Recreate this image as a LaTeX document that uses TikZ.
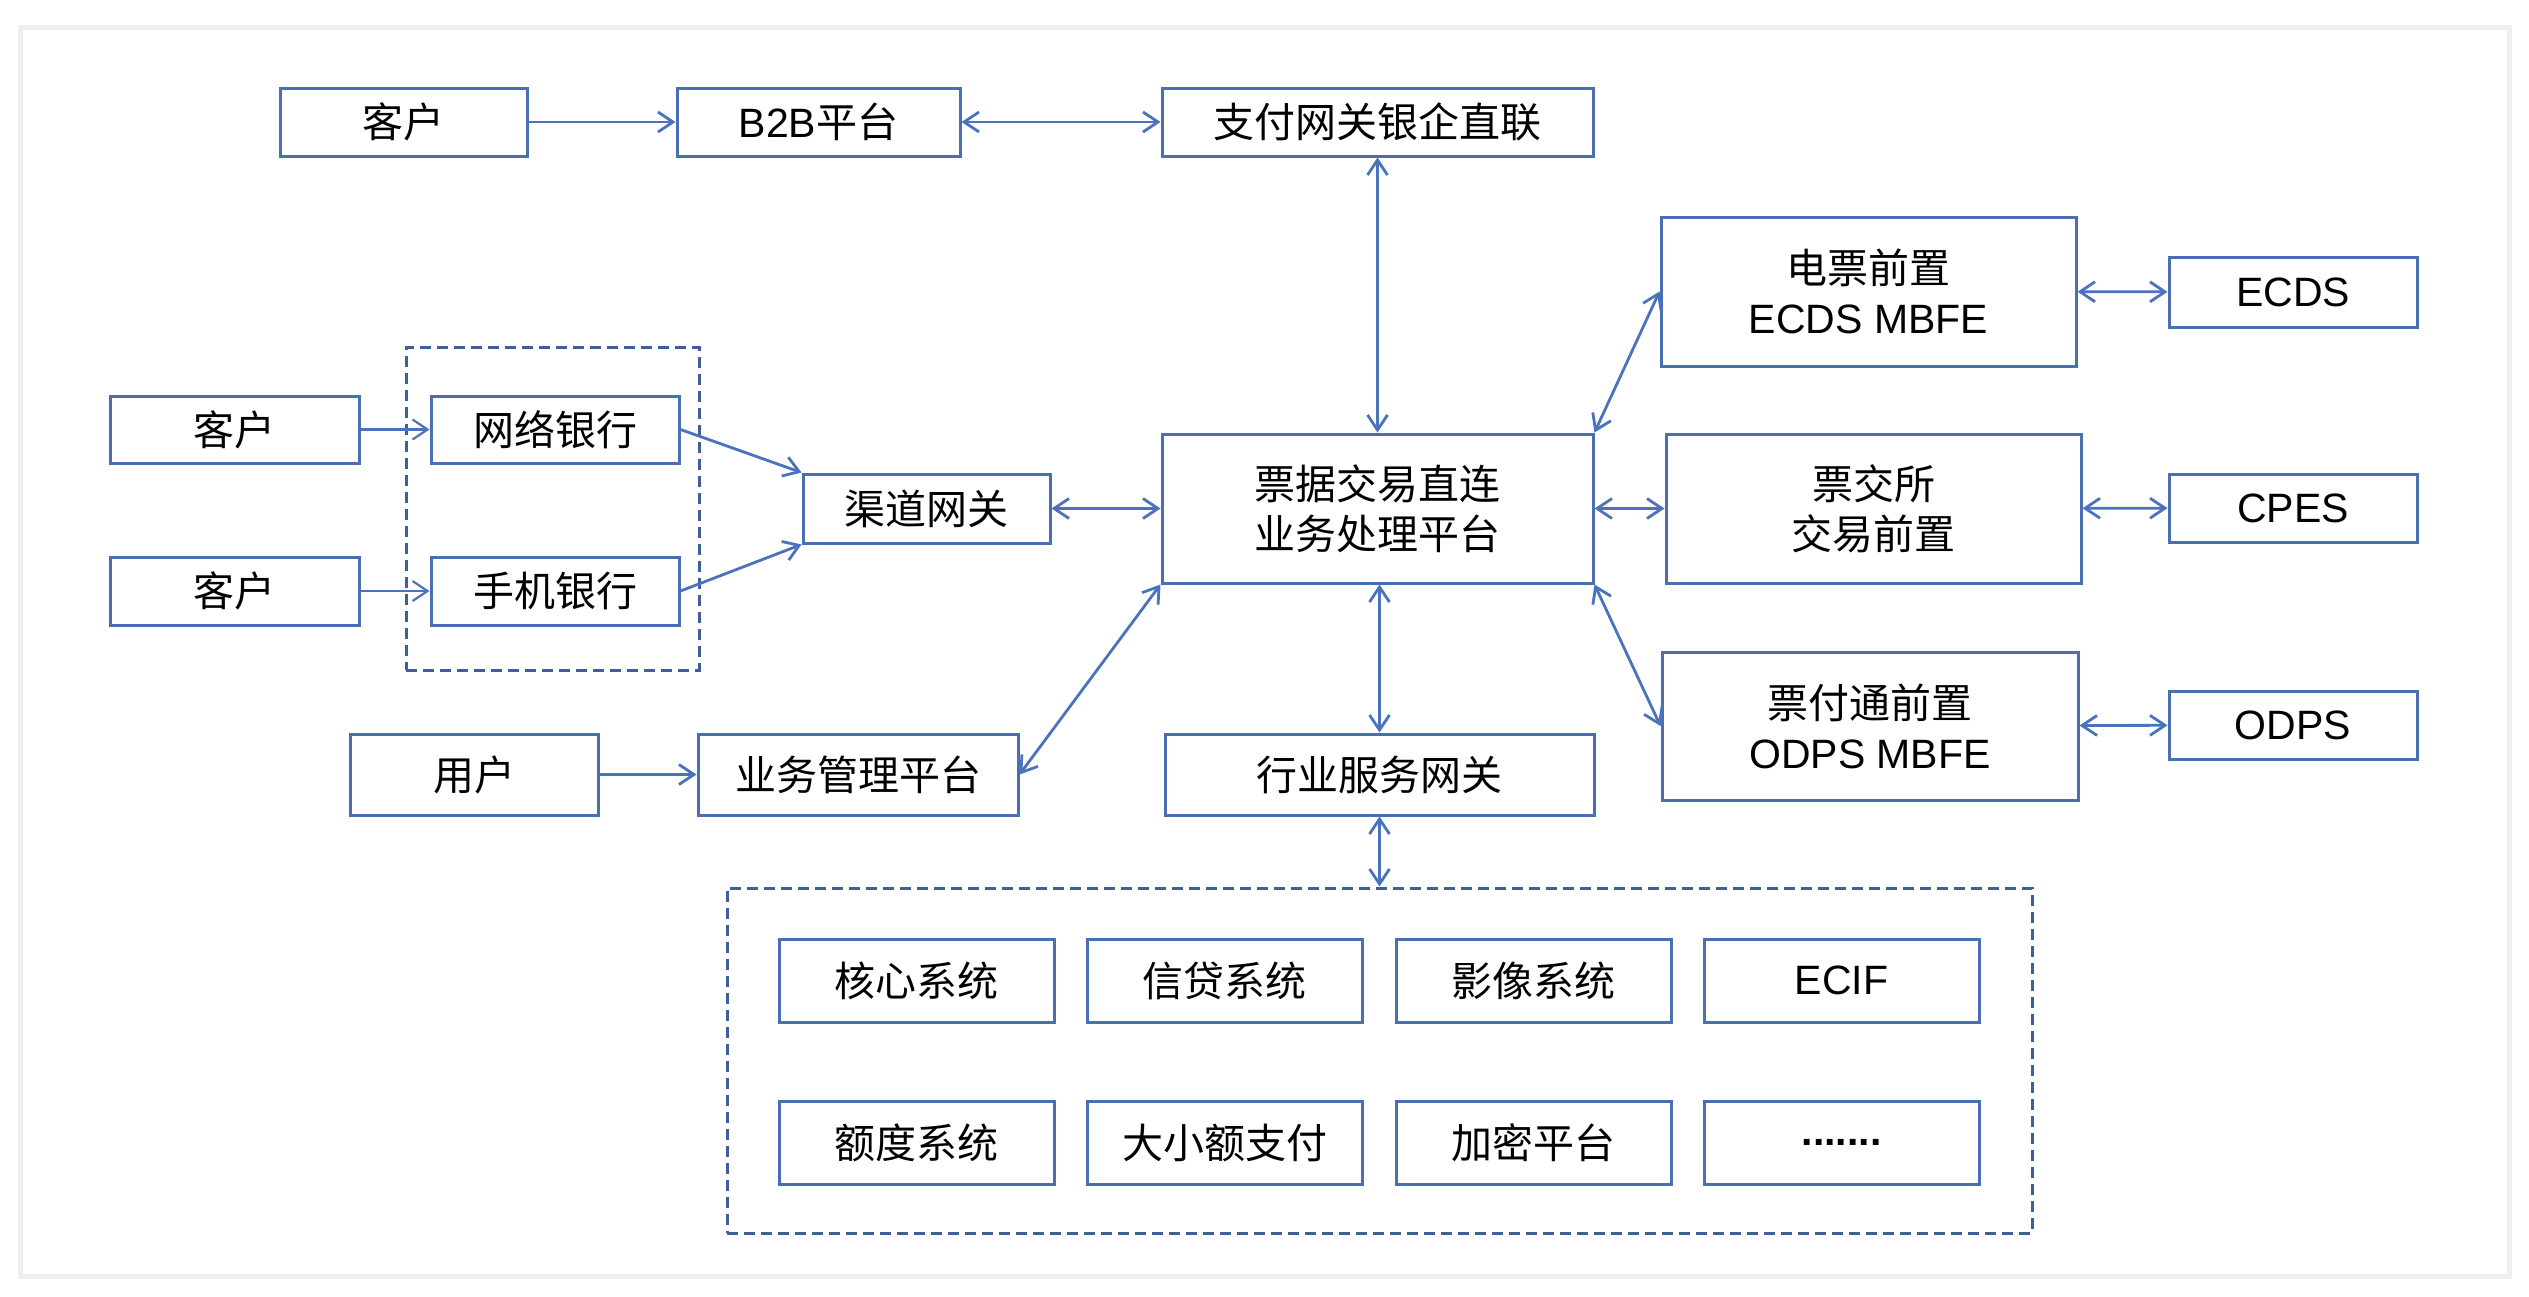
\documentclass[tikz,border=0pt]{standalone}
\usepackage{fontspec}
\setmainfont{Noto Sans CJK SC}
\newfontfamily\lat{Liberation Sans}
\usetikzlibrary{arrows.meta}
\definecolor{boxblue}{HTML}{4A6FB0}
\definecolor{lineblue}{HTML}{4A72BD}
\definecolor{dashblue}{HTML}{3F5F9C}
\definecolor{framegray}{HTML}{EFEFEF}
\begin{document}
\begin{tikzpicture}[x=1pt,y=-1pt,
  box/.style={draw=boxblue, line width=3pt, minimum width=#1, inner sep=0pt,
    align=center, font=\fontsize{41}{50}\selectfont, text=black},
  dbox/.style={draw=dashblue, line width=3pt, dash pattern=on 11pt off 6pt, inner sep=0pt},
  conn/.style={draw=lineblue, line width=2.8pt},
  thinconn/.style={draw=lineblue, line width=2.2pt},
  >={Straight Barb[length=15pt,width=20pt]}
]
\useasboundingbox (0,0) rectangle (2529,1296);
\fill[white] (0,0) rectangle (2529,1296);
\draw[framegray, line width=5pt] (20,27) rectangle (2509,1276);

% dashed groups
\node[dbox, minimum width=293pt, minimum height=323pt] (grp) at (552.5,508.5) {};
\node[dbox, minimum width=1305pt, minimum height=345pt] (sys) at (1379.5,1060.5) {};

% top row
\node[box=247pt, minimum height=68pt] (c1) at (403.5,122) {客户};
\node[box=283pt, minimum height=68pt] (b2b) at (818.5,122) {{\lat B2B}平台};
\node[box=431pt, minimum height=68pt] (zf) at (1377.5,122) {支付网关银企直联};

% left
\node[box=249pt, minimum height=67pt] (c2) at (234.5,429.5) {客户};
\node[box=248pt, minimum height=67pt] (wl) at (555,429.5) {网络银行};
\node[box=249pt, minimum height=68pt] (c3) at (234.5,591) {客户};
\node[box=248pt, minimum height=68pt] (sj) at (555,591) {手机银行};
\node[box=247pt, minimum height=69pt] (qd) at (926.5,508.5) {渠道网关};

% center
\node[box=431pt, minimum height=149pt] (pj) at (1377.5,508.5) {票据交易直连\\业务处理平台};

% right
\node[box=415pt, minimum height=149pt] (dp) at (1868.5,291.5) {电票前置\\{\lat ECDS MBFE}};
\node[box=415pt, minimum height=149pt] (pjs) at (1873.5,508.5) {票交所\\交易前置};
\node[box=416pt, minimum height=148pt] (pft) at (1870,726) {票付通前置\\{\lat ODPS MBFE}};
\node[box=248pt, minimum height=70pt] (ecds) at (2293,292) {\lat ECDS};
\node[box=248pt, minimum height=68pt] (cpes) at (2293,508) {\lat CPES};
\node[box=248pt, minimum height=68pt] (odps) at (2293,725) {\lat ODPS};

% lower row
\node[box=248pt, minimum height=81pt] (yh) at (474,774.5) {用户};
\node[box=320pt, minimum height=81pt] (yw) at (858,774.5) {业务管理平台};
\node[box=429pt, minimum height=81pt] (hy) at (1379.5,774.5) {行业服务网关};

% systems
\node[box=275pt, minimum height=83pt] (hx) at (916.5,980.5) {核心系统};
\node[box=275pt, minimum height=83pt] (xd) at (1224.5,980.5) {信贷系统};
\node[box=275pt, minimum height=83pt] (yx) at (1533.5,980.5) {影像系统};
\node[box=275pt, minimum height=83pt] (ecif) at (1841.5,980.5) {\lat ECIF};
\node[box=275pt, minimum height=83pt] (ed) at (916.5,1142.5) {额度系统};
\node[box=275pt, minimum height=83pt] (dxe) at (1224.5,1142.5) {大小额支付};
\node[box=275pt, minimum height=83pt] (jm) at (1533.5,1142.5) {加密平台};
\node[box=275pt, minimum height=83pt] (more) at (1841.5,1142.5) {\lat\bfseries .......};

% connectors
\draw[conn,->] (c1) -- (b2b);
\draw[conn,<->] (b2b) -- (zf);
\draw[conn,<->] (zf) -- (pj);
\draw[thinconn,->] (c2) -- (wl);
\draw[thinconn,->] (c3) -- (sj);
\draw[conn,->] (wl.east) -- (qd.north west);
\draw[conn,->] (sj.east) -- (qd.south west);
\draw[conn,<->] (qd) -- (pj);
\draw[conn,<->] (pj.north east) -- (dp.west);
\draw[conn,<->] (pj) -- (pjs);
\draw[conn,<->] (pj.south east) -- (pft.west);
\draw[conn,<->] (dp) -- (ecds);
\draw[conn,<->] (pjs) -- (cpes);
\draw[conn,<->] (pft) -- (odps);
\draw[conn,->] (yh) -- (yw);
\draw[conn,<->] (pj.south west) -- (yw.east);
\draw[conn,<->] (hy.north |- pj.south) -- (hy.north);
\draw[conn,<->] (hy.south) -- (sys.north);
\end{tikzpicture}
\end{document}
